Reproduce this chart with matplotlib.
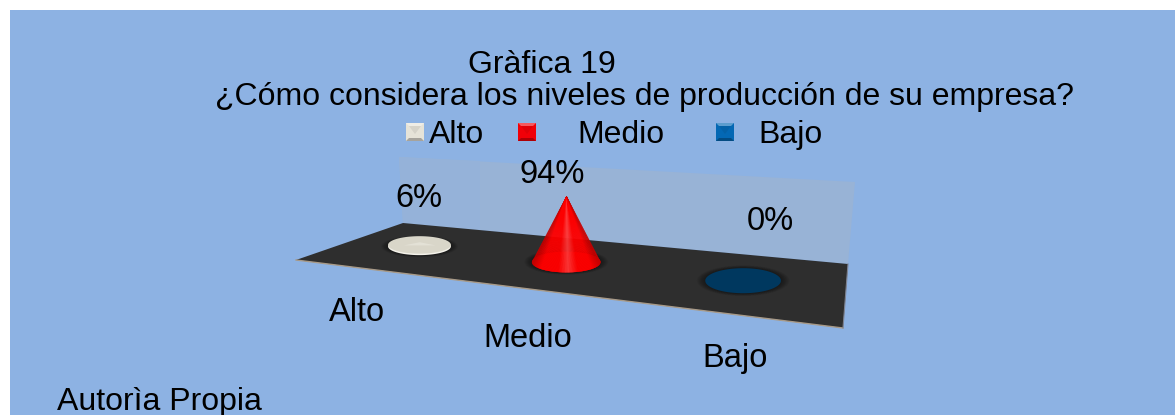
import numpy as np
import matplotlib
matplotlib.use('Agg')
import matplotlib.pyplot as plt
from matplotlib.patches import Polygon, Rectangle

plt.rcParams['font.family'] = ['Liberation Sans', 'DejaVu Sans']

categories = ['Alto', 'Medio', 'Bajo']
values = [6, 94, 0]
pct_labels = ['6%', '94%', '0%']
title_top = 'Gràfica 19'
title_main = '¿Cómo considera los niveles de producción de su empresa?'
footer = 'Autorìa Propia'

BG = '#8db2e3'
colors_base = ['#d9d6c9', '#ff0000', '#00385f']
colors_edge = ['#b9b6a8', '#c40000', '#00385f']
colors_light = ['#eeece3', '#ff3a3a', '#00385f']
legend_colors = ['#e6e3d8', '#f00008', '#0468b4']

W, H = 1175, 415
FS = 23.5
FS_TITLE = 23

# floor corners in pixels: front left, back left, back right, front right
floor = [(296, 260), (403, 223), (848, 264), (843, 328)]
wall = [(403, 223), (399, 157), (855, 182), (848, 264)]


def homography(q):
    # unit square -> quad (u along the axis, v going back)
    src = [(0, 0), (0, 1), (1, 1), (1, 0)]
    A, b = [], []
    for (u, v), (x, y) in zip(src, q):
        A.append([u, v, 1, 0, 0, 0, -u * x, -v * x])
        A.append([0, 0, 0, u, v, 1, -u * y, -v * y])
        b += [x, y]
    h = np.linalg.solve(np.array(A, float), np.array(b, float))
    return np.append(h, 1).reshape(3, 3)


HM = homography(floor)


def project(u, v):
    p = HM @ np.array([u, v, 1.0])
    return p[0] / p[2], p[1] / p[2]


def disc(i, scale=1.0):
    # screen aligned ellipse, its size follows the floor perspective (damped)
    t = np.linspace(0, 2 * np.pi, 120)
    u0 = (i + 0.5) / len(categories)
    du, dv = 0.063, 0.22
    cx, cy = project(u0, 0.5)
    rx = (project(u0 + du, 0.5)[0] - project(u0 - du, 0.5)[0]) / 2
    rx = 35 * (rx / 31.5) ** 0.5
    ry = (project(u0, 0.5 - dv)[1] - project(u0, 0.5 + dv)[1]) / 2
    return np.column_stack([cx + scale * rx * np.cos(t), cy + scale * ry * np.sin(t)])


fig = plt.figure(figsize=(W / 100, H / 100), dpi=100, facecolor='white')
ax = fig.add_axes([0, 0, 1, 1])
ax.set_xlim(0, W)
ax.set_ylim(H, 0)
ax.axis('off')

ax.add_patch(Rectangle((10, 10), W - 10, H - 10, fc=BG, ec='none'))

# wall and floor
ax.add_patch(Polygon(wall, fc='#98b3d6', ec='none'))
wall_left = [wall[0], wall[1], (480, 161), (480, 230)]
ax.add_patch(Polygon(wall_left, fc='#95b2d9', ec='none'))
ax.add_patch(Polygon(floor, fc='#2e2e2e', ec='none'))
ax.plot([floor[0][0], floor[3][0]], [floor[0][1], floor[3][1]], color='#a89a88', lw=1)
ax.plot([floor[3][0], floor[2][0]], [floor[3][1], floor[2][1]], color='#7d8290', lw=0.8)

# shadows + marks
for i, val in enumerate(values):
    for s in np.linspace(1.22, 1.02, 8):
        ax.add_patch(Polygon(disc(i, s), fc='black', ec='none', alpha=0.06))
    base = disc(i)
    cx, cy = base[:, 0].mean(), base[:, 1].mean()
    if val == 0:
        ax.add_patch(Polygon(base, fc=colors_base[i], ec='none'))
        continue
    apex_y = cy - val * 0.70
    if val < 20:
        ax.add_patch(Polygon(base, fc='#f4f2ea', ec='none'))
        inner = base.copy()
        inner[:, 1] -= 1.5
        ax.add_patch(Polygon(inner, fc=colors_base[i], ec='none'))
        ax.add_patch(Polygon([(cx - 16, cy - 1), (cx, apex_y), (cx + 16, cy - 1)],
                             fc=colors_light[i], ec='none', alpha=0.5))
        continue
    xs = np.linspace(base[:, 0].min(), base[:, 0].max(), 90)
    # lower half of base outline, left to right
    low = base[base[:, 1] >= cy]
    low = low[np.argsort(low[:, 0])]
    ys = np.interp(xs, low[:, 0], low[:, 1])
    rx = (xs - cx) / (xs.max() - cx)
    ax.add_patch(Polygon(base, fc=colors_edge[i], ec='none'))
    c_edge = np.array(matplotlib.colors.to_rgb(colors_edge[i]))
    c_base = np.array(matplotlib.colors.to_rgb(colors_base[i]))
    c_light = np.array(matplotlib.colors.to_rgb(colors_light[i]))
    for j in range(len(xs) - 1):
        r = (rx[j] + rx[j + 1]) / 2
        if abs(r) > 0.75:
            col = c_base + (abs(r) - 0.75) / 0.25 * (c_edge - c_base)
        else:
            col = c_base + max(0, 1 - abs(r - 0.05) / 0.3) * (c_light - c_base)
        ax.add_patch(Polygon([(xs[j], ys[j]), (xs[j + 1], ys[j + 1]), (cx, apex_y)],
                             fc=col, ec=col, lw=0.2))

# legend
legend_x = [415, 527, 725]
legend_text_x = [429, 577, 758]
for x, c, lab, tx in zip(legend_x, legend_colors, categories, legend_text_x):
    y, half, bev = 132, 9, 3
    rgb = np.array(matplotlib.colors.to_rgb(c))
    dark = rgb * 0.72
    light = rgb + (1 - rgb) * 0.35
    o = [(x - half, y - half), (x + half, y - half), (x + half, y + half), (x - half, y + half)]
    n = [(x - half + bev, y - half + bev), (x + half - bev, y - half + bev),
         (x + half - bev, y + half - bev), (x - half + bev, y + half - bev)]
    ax.add_patch(Polygon(o, fc=rgb, ec='none'))
    ax.add_patch(Polygon([o[0], o[1], n[1], n[0]], fc=light, ec='none'))
    ax.add_patch(Polygon([o[3], o[2], n[2], n[3]], fc=dark, ec='none'))
    ax.add_patch(Polygon([n[0], n[1], (x, y + 2)], fc=rgb * 0.93, ec='none'))
    ax.text(tx, 143, lab, fontsize=FS_TITLE, va='baseline', ha='left', color='black')

# text
ax.text(468, 73, title_top, fontsize=FS_TITLE, va='baseline', ha='left')
ax.text(215, 105, title_main, fontsize=FS_TITLE, va='baseline', ha='left')

pct_x = [419, 552, 770]
pct_y = [207, 183, 230]
for lab, x, y in zip(pct_labels, pct_x, pct_y):
    ax.text(x, y, lab, fontsize=FS, ha='center', va='baseline')

cat_x = [357, 528, 735]
cat_y = [321, 347, 367]
for lab, x, y in zip(categories, cat_x, cat_y):
    ax.text(x, y, lab, fontsize=FS, ha='center', va='baseline')

ax.text(57, 410, footer, fontsize=FS_TITLE, ha='left', va='baseline')

fig.savefig('out.png', dpi=100, facecolor='white')
